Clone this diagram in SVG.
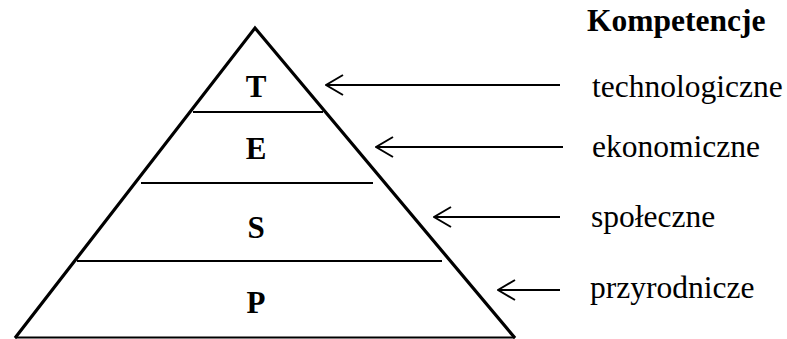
<svg xmlns="http://www.w3.org/2000/svg" width="787" height="339" viewBox="0 0 787 339">
<defs>
<style>
.side{stroke:#000;stroke-width:3.2;fill:none;stroke-linecap:butt}
.band{stroke:#000;stroke-width:2;fill:none}
.arr{stroke:#000;stroke-width:2;fill:none}
.lt{font-family:"Liberation Serif","Times New Roman",serif;font-size:31px;font-weight:bold;text-anchor:middle;fill:#000}
.lab{font-family:"Liberation Serif","Times New Roman",serif;font-size:31.5px;fill:#000}
.hd{font-family:"Liberation Serif","Times New Roman",serif;font-size:31.5px;font-weight:bold;fill:#000}
</style>
<marker id="ah" viewBox="0 0 20 24" refX="19" refY="12" markerWidth="20" markerHeight="24" markerUnits="userSpaceOnUse" orient="auto">
<path d="M2,2 L19,12 L2,22" stroke="#000" stroke-width="2" fill="none"/>
</marker>
</defs>
<rect width="787" height="339" fill="#fff"/>
<g id="pyramid">
<path class="side" d="M15,338 L255,28 L515,338"/>
<line class="band" x1="15" y1="337.5" x2="515" y2="337.5"/>
<line class="band" x1="193" y1="112" x2="323" y2="112"/>
<line class="band" x1="141" y1="183" x2="373" y2="183"/>
<line class="band" x1="77" y1="261" x2="442" y2="261"/>
</g>
<g id="node-T"><text class="lt" x="256" y="97">T</text></g>
<g id="node-E"><text class="lt" x="256" y="159">E</text></g>
<g id="node-S"><text class="lt" x="256" y="238">S</text></g>
<g id="node-P"><text class="lt" x="256" y="313">P</text></g>
<g id="title"><text class="hd" x="587" y="31">Kompetencje</text></g>
<g id="lab-tech"><text class="lab" x="592" y="97">technologiczne</text></g>
<g id="lab-eko"><text class="lab" x="592" y="157">ekonomiczne</text></g>
<g id="lab-spol"><text class="lab" x="591" y="227">społeczne</text></g>
<g id="lab-przy"><text class="lab" x="590" y="298">przyrodnicze</text></g>
<g id="connectors">
<line class="arr" x1="560" y1="85" x2="326" y2="85" marker-end="url(#ah)"/>
<line class="arr" x1="563" y1="147" x2="376" y2="147" marker-end="url(#ah)"/>
<line class="arr" x1="560" y1="217" x2="434" y2="217" marker-end="url(#ah)"/>
<line class="arr" x1="560" y1="290" x2="498" y2="290" marker-end="url(#ah)"/>
</g>
</svg>
